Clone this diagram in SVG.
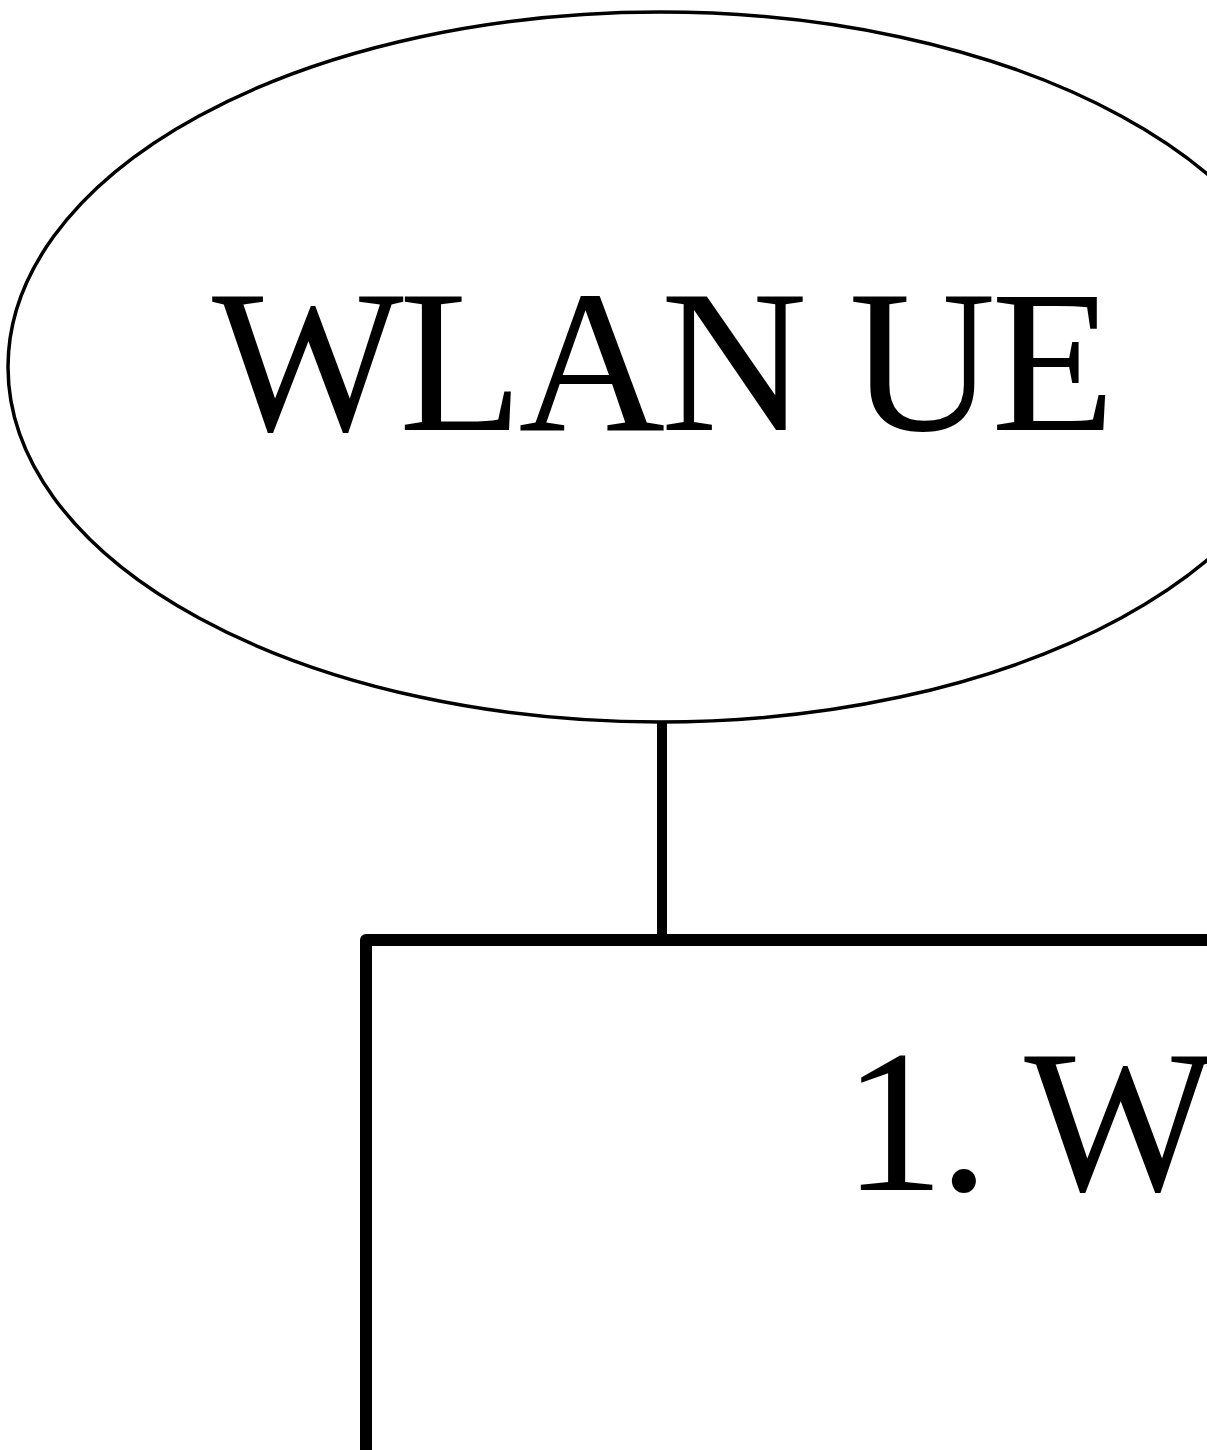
<svg xmlns="http://www.w3.org/2000/svg" width="1207" height="1450" viewBox="0 0 1207 1450">
<style>
.t{font-family:"Liberation Serif","Times New Roman",serif;font-size:203px;letter-spacing:-6px;fill:#000}
</style>
<rect width="1207" height="1450" fill="#fff"/>
<g id="connectors">
<line x1="662" y1="722" x2="662" y2="936" stroke="#000" stroke-width="10"/>
</g>
<g id="node-wlan-ue">
<ellipse cx="660" cy="367" rx="652" ry="355" fill="none" stroke="#000" stroke-width="3.5"/>
<text class="t" x="212" y="430" style="letter-spacing:-4.5px">WLAN UE</text>
</g>
<g id="node-step1">
<rect x="366" y="940" width="1500" height="1000" fill="none" stroke="#000" stroke-width="12" stroke-linejoin="round"/>
<text class="t" x="843" y="1190">1. W</text>
</g>
</svg>
